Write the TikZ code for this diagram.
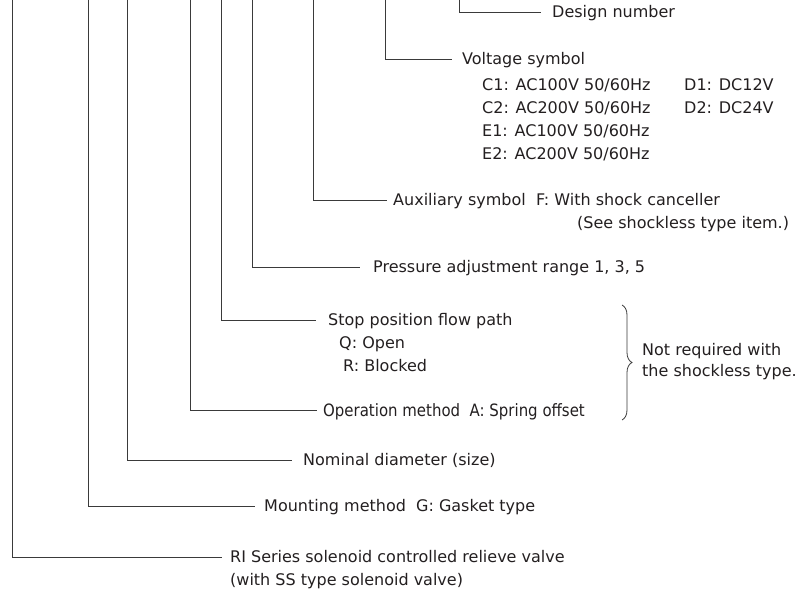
\documentclass[tikz,border=0pt]{standalone}
\usepackage{fontspec}
\setmainfont{DejaVu Sans}
\newfontfamily\condfont[FakeStretch=0.88]{DejaVu Sans}
\usetikzlibrary{decorations.pathreplacing}
\definecolor{txt}{HTML}{231F20}
\definecolor{ln}{HTML}{3A3A3A}
\begin{document}
\begin{tikzpicture}[x=1pt,y=-1pt,
  lbl/.style={font=\fontsize{16}{19}\selectfont, text=txt, inner sep=0pt, anchor=west, text height=11.7pt, text depth=0pt},
  condlbl/.style={lbl, font=\condfont\fontsize{17}{20}\selectfont, text height=12.4pt},
  conn/.style={draw=ln, line width=0.8pt}]
\useasboundingbox (0,0) rectangle (804,596);
% top ends of the leader lines
\coordinate (t1) at (459,0);
\coordinate (t2) at (385,0);
\coordinate (t3) at (313,0);
\coordinate (t4) at (252,0);
\coordinate (t5) at (221,0);
\coordinate (t6) at (190,0);
\coordinate (t7) at (127,0);
\coordinate (t8) at (88,0);
\coordinate (t9) at (12,0);
% labels
\node[lbl] (design) at (552,12) {Design number};
\node[lbl] (volt) at (462,59) {Voltage symbol};
\node[lbl] (c1) at (482,85) {C1: AC100V 50/60Hz};
\node[lbl] (d1) at (684,85) {D1: DC12V};
\node[lbl] (c2) at (482,108) {C2: AC200V 50/60Hz};
\node[lbl] (d2) at (684,108) {D2: DC24V};
\node[lbl] (e1) at (482,131) {E1: AC100V 50/60Hz};
\node[lbl] (e2) at (482,154) {E2: AC200V 50/60Hz};
\node[lbl] (aux) at (393,200) {Auxiliary symbol\ \ F: With shock canceller};
\node[lbl] (see) at (577,223) {(See shockless type item.)};
\node[lbl] (pres) at (373,267) {Pressure adjustment range 1, 3, 5};
\node[lbl] (stop) at (328,320) {Stop position flow path};
\node[lbl] (q) at (339,343) {Q: Open};
\node[lbl] (r) at (343,366) {R: Blocked};
\node[condlbl] (oper) at (323,410) {Operation method\ \ A: Spring offset};
\node[lbl] (nom) at (303,460) {Nominal diameter (size)};
\node[lbl] (mount) at (264,506) {Mounting method\ \ G: Gasket type};
\node[lbl] (ri) at (230,557) {RI Series solenoid controlled relieve valve};
\node[lbl] (ri2) at (230,580) {(with SS type solenoid valve)};
\node[lbl] (notreq) at (642,350) {Not required with};
\node[lbl] (notreq2) at (642,371) {the shockless type.};
% leader lines
\draw[conn] (t1) |- ([xshift=-11pt]design.west);
\draw[conn] (t2) |- ([xshift=-10pt]volt.west);
\draw[conn] (t3) |- ([xshift=-6pt]aux.west);
\draw[conn] (t4) |- ([xshift=-13pt]pres.west);
\draw[conn] (t5) |- ([xshift=-12pt]stop.west);
\draw[conn] (t6) |- ([xshift=-6pt]oper.west);
\draw[conn] (t7) |- ([xshift=-11pt]nom.west);
\draw[conn] (t8) |- ([xshift=-9pt]mount.west);
\draw[conn] (t9) |- ([xshift=-8pt]ri.west);
% brace
\coordinate (bt) at (622,305);
\coordinate (bb) at (622,420);
\draw[conn, decorate, decoration={brace, amplitude=10pt}] (bt) -- (bb);
\end{tikzpicture}
\end{document}
